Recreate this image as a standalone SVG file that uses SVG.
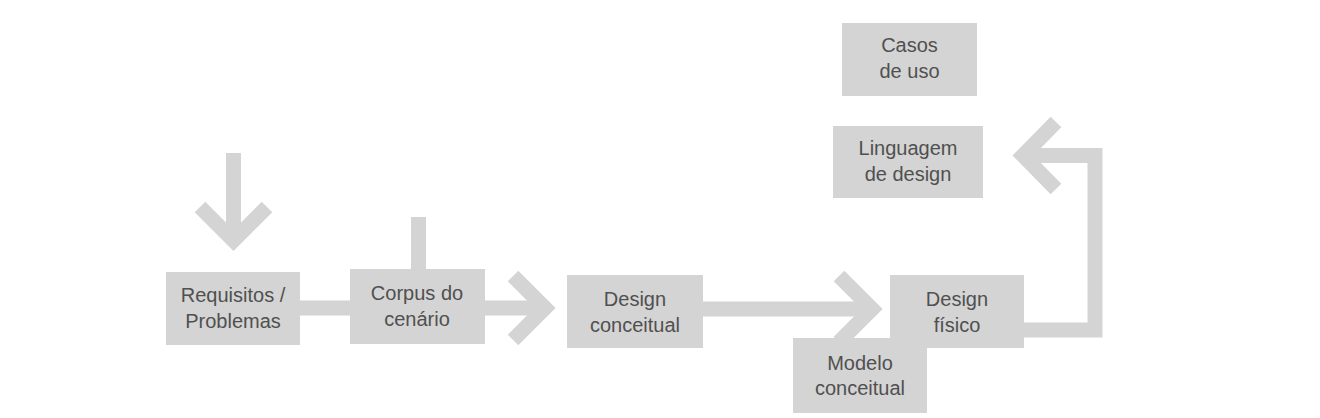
<svg xmlns="http://www.w3.org/2000/svg" width="1320" height="418" viewBox="0 0 1320 418">
<style>
.box{fill:#d4d4d4}
.con{fill:none;stroke:#d4d4d4;stroke-width:15;stroke-linejoin:miter;stroke-miterlimit:10;stroke-linecap:butt}
.lbl{font-family:"Liberation Sans",Arial,sans-serif;font-size:20px;fill:#505050;text-anchor:middle}
</style>
<rect width="1320" height="418" fill="#ffffff"/>
<g id="connectors">
<path class="con" d="M233.5,153 V236"/>
<path class="con" d="M200,207 L233.5,240.5 L267,207"/>
<path class="con" d="M418.5,217 V270"/>
<path class="con" d="M299,308 H290 M350,308 H300"/>
<path class="con" d="M484,308 H540"/>
<path class="con" d="M513,276 L545,308 L513,340"/>
<path class="con" d="M702,309 H867"/>
<path class="con" d="M839,276 L872,309 L839,342"/>
<path class="con" d="M1023,330 H1095 V155.5 H1028"/>
<path class="con" d="M1056,122 L1023,155.5 L1056,189"/>
</g>
<g id="requisitos">
<rect class="box" x="166" y="272" width="134" height="73"/>
<text class="lbl" x="233" y="302">Requisitos /</text>
<text class="lbl" x="233" y="328">Problemas</text>
</g>
<g id="corpus">
<rect class="box" x="350" y="269" width="135" height="75"/>
<text class="lbl" x="417" y="300">Corpus do</text>
<text class="lbl" x="417" y="326">cenário</text>
</g>
<g id="design-conceitual">
<rect class="box" x="567" y="275" width="136" height="73"/>
<text class="lbl" x="635" y="306">Design</text>
<text class="lbl" x="635" y="332">conceitual</text>
</g>
<g id="design-fisico">
<rect class="box" x="890" y="275" width="134" height="73"/>
<text class="lbl" x="957" y="306">Design</text>
<text class="lbl" x="957" y="332">físico</text>
</g>
<g id="modelo-conceitual">
<rect class="box" x="793" y="338" width="134" height="75"/>
<text class="lbl" x="860" y="370">Modelo</text>
<text class="lbl" x="860" y="395">conceitual</text>
</g>
<g id="casos-de-uso">
<rect class="box" x="842" y="23" width="135" height="73"/>
<text class="lbl" x="909.5" y="52">Casos</text>
<text class="lbl" x="909.5" y="78">de uso</text>
</g>
<g id="linguagem-de-design">
<rect class="box" x="833" y="126" width="150" height="72"/>
<text class="lbl" x="908" y="155">Linguagem</text>
<text class="lbl" x="908" y="181">de design</text>
</g>
</svg>
